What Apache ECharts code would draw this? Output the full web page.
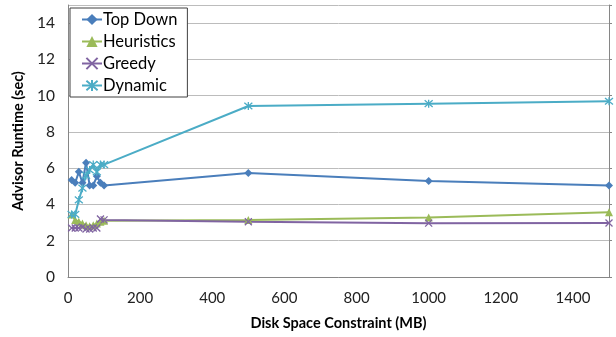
<!DOCTYPE html>
<html><head><meta charset="utf-8">
<script src="https://cdn.jsdelivr.net/npm/echarts@6/dist/echarts.min.js"></script>
<style>html,body{margin:0;padding:0;background:#fff}#c{width:616px;height:337px}</style>
</head><body><div id="c"></div>
<script>
var diskMB = [10,20,30,40,50,60,70,80,90,100,500,1000,1500];
var topDown = [5.35,5.2,5.8,5.2,6.3,5.05,5.05,5.55,5.2,5.05,5.73,5.3,5.04];
var heuristics = [3.45,3.15,3.05,2.95,2.85,2.8,2.85,2.95,3.05,3.1,3.15,3.28,3.57];
var greedy = [2.7,2.7,2.7,2.75,2.65,2.65,2.7,2.7,3.2,3.15,3.05,2.97,2.98];
var dynamic = [3.45,3.45,4.25,4.9,5.6,5.9,6.2,5.8,6.2,6.2,9.43,9.56,9.69];
var yTicks = [0,2,4,6,8,10,12,14];
var xTicks = [0,200,400,600,800,1000,1200,1400];

function pairs(ys){ return diskMB.map(function(x,i){ return [x, ys[i]]; }); }
var FONT = 'Lato';
var xPath = 'path://M0,0L10,10M10,0L0,10';
var starPath = 'path://M0,0L10,10M10,0L0,10M5,-1L5,11';
function mk(name, data, color, symbol, size, stroke){
  return {
    name: name, type: 'line', data: pairs(data), symbol: symbol, symbolSize: size,
    lineStyle: {color: color, width: 2}, color: color,
    itemStyle: stroke ? {color: 'rgba(0,0,0,0)', borderColor: color, borderWidth: 1.3} : {color: color},
    emphasis: {disabled: true}, animation: false
  };
}
var chart = echarts.init(document.getElementById('c'));
chart.setOption({
  animation: false,
  textStyle: {fontFamily: FONT},
  grid: {left: 68, right: 7, top: 5, bottom: 60, containLabel: false},
  legend: {
    orient: 'vertical', left: 70, top: 8,
    backgroundColor: '#fff', borderColor: '#404040', borderWidth: 1,
    padding: [3, 10, 3, 11], itemWidth: 20, itemHeight: 14, itemGap: 5,
    textStyle: {fontFamily: FONT, fontSize: 16.5, color: '#000', padding: [0,0,0,-4]},
    data: ['Top Down','Heuristics','Greedy','Dynamic']
  },
  xAxis: {
    type: 'value', min: 0, max: 1500, interval: 200,
    name: 'Disk Space Constraint (MB)', nameLocation: 'middle', nameGap: 39,
    nameTextStyle: {fontFamily: FONT, fontSize: 14.5, fontWeight: 'bold', color: '#000'},
    axisLine: {show: true, lineStyle: {color: '#868686', width: 1}},
    axisTick: {show: false},
    axisLabel: {fontFamily: FONT, fontSize: 15, color: '#222', margin: 14, showMaxLabel: false,
      formatter: function(v){ return xTicks.indexOf(v) >= 0 ? String(v) : ''; }},
    splitLine: {show: false}
  },
  yAxis: [{
    type: 'value', min: 0, max: 15, interval: 2,
    name: 'Advisor Runtime (sec)', nameLocation: 'middle', nameGap: 42, nameRotate: 90,
    nameTextStyle: {fontFamily: FONT, fontSize: 14.5, fontWeight: 'bold', color: '#000'},
    axisLine: {show: true, lineStyle: {color: '#868686', width: 1}},
    axisTick: {show: false},
    axisLabel: {fontFamily: FONT, fontSize: 15.5, color: '#222', margin: 13, showMaxLabel: false,
      formatter: function(v){ return yTicks.indexOf(v) >= 0 ? String(v) : ''; }},
    splitLine: {show: true, lineStyle: {color: '#bcbcbc', width: 1}}
  },{
    type: 'value', min: 0, max: 15, interval: 2, position: 'right',
    axisLine: {show: true, lineStyle: {color: '#868686', width: 1}},
    axisTick: {show: true, inside: false, length: 3, lineStyle: {color: '#868686'}},
    axisLabel: {show: false}, splitLine: {show: false}
  }],
  series: [
    mk('Top Down', topDown, '#4a7ebb', 'diamond', 8, false),
    mk('Heuristics', heuristics, '#9bbb59', 'triangle', 8, false),
    mk('Greedy', greedy, '#8064a2', xPath, 7, true),
    mk('Dynamic', dynamic, '#4bacc6', starPath, 8, true)
  ]
});
</script></body></html>
